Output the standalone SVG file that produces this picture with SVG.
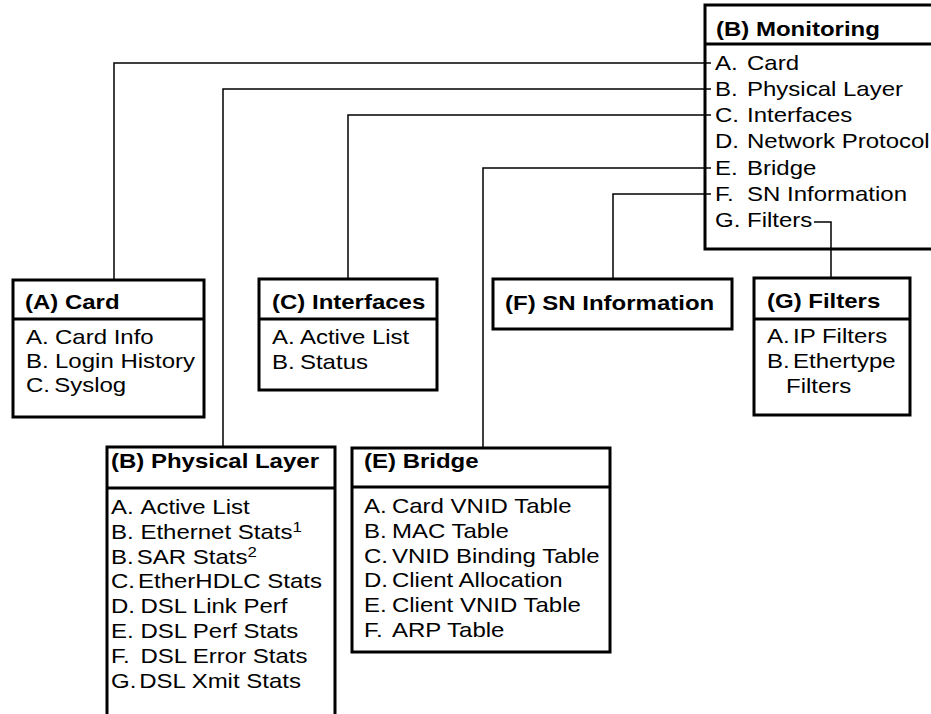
<svg xmlns="http://www.w3.org/2000/svg" width="931" height="714" viewBox="0 0 931 714">
<style>
.box{fill:#fff;stroke:#000;stroke-width:3}
.hl{fill:none;stroke:#000;stroke-width:3}
.cn{fill:none;stroke:#000;stroke-width:1.5}
.t{font-family:"Liberation Sans",Arial,Helvetica,sans-serif;font-size:20px;fill:#000}
.b{font-weight:bold}
.sup{font-size:14px}
</style>
<rect width="931" height="714" fill="#fff"/>
<g id="connectors">
<path class="cn" d="M711 63H114V280"/>
<path class="cn" d="M711 89H223V447"/>
<path class="cn" d="M711 115H348V279"/>
<path class="cn" d="M711 168H483V448"/>
<path class="cn" d="M711 194H613V279"/>
<path class="cn" d="M814 222H831V278"/>
</g>
<g id="monitoring">
<path class="hl" d="M935 5H705V249H935"/>
<path class="hl" d="M705 44H935"/>
<text class="t b" transform="translate(716,36) scale(1.2,1)">(B) Monitoring</text>
<text class="t" transform="translate(715,70) scale(1.2,1)">A.<tspan x="26.7">Card</tspan></text>
<text class="t" transform="translate(715,96) scale(1.2,1)">B.<tspan x="26.7">Physical Layer</tspan></text>
<text class="t" transform="translate(715,122) scale(1.2,1)">C.<tspan x="26.7">Interfaces</tspan></text>
<text class="t" transform="translate(715,148) scale(1.2,1)">D.<tspan x="26.7">Network Protocol</tspan></text>
<text class="t" transform="translate(715,175) scale(1.2,1)">E.<tspan x="26.7">Bridge</tspan></text>
<text class="t" transform="translate(715,201) scale(1.2,1)">F.<tspan x="26.7">SN Information</tspan></text>
<text class="t" transform="translate(715,227) scale(1.2,1)">G.<tspan x="26.7">Filters</tspan></text>
</g>
<g id="card">
<rect class="box" x="13" y="280" width="191" height="137"/>
<path class="hl" d="M13 319H204"/>
<text class="t b" transform="translate(25,309) scale(1.2,1)">(A) Card</text>
<text class="t" transform="translate(26,344) scale(1.2,1)">A.<tspan x="24.2">Card Info</tspan></text>
<text class="t" transform="translate(26,368) scale(1.2,1)">B.<tspan x="24.2">Login History</tspan></text>
<text class="t" transform="translate(26,392) scale(1.2,1)">C.<tspan x="23.5">Syslog</tspan></text>
</g>
<g id="interfaces">
<rect class="box" x="259" y="279" width="178" height="111"/>
<path class="hl" d="M259 319H437"/>
<text class="t b" transform="translate(272,309) scale(1.2,1)">(C) Interfaces</text>
<text class="t" transform="translate(272,344) scale(1.2,1)">A.<tspan x="23.3">Active List</tspan></text>
<text class="t" transform="translate(272,369) scale(1.2,1)">B.<tspan x="23.3">Status</tspan></text>
</g>
<g id="sninfo">
<rect class="box" x="493" y="279" width="239" height="50"/>
<text class="t b" transform="translate(505,310) scale(1.2,1)">(F) SN Information</text>
</g>
<g id="filters">
<rect class="box" x="754" y="278" width="156" height="137"/>
<path class="hl" d="M754 319H910"/>
<text class="t b" transform="translate(767,308) scale(1.2,1)">(G) Filters</text>
<text class="t" transform="translate(767,343) scale(1.2,1)">A.<tspan x="21.7">IP Filters</tspan></text>
<text class="t" transform="translate(767,368) scale(1.2,1)">B.<tspan x="21.7">Ethertype</tspan></text>
<text class="t" transform="translate(786,393) scale(1.2,1)">Filters</text>
</g>
<g id="physical">
<path class="hl" d="M107 714V447H335V714"/>
<path class="hl" d="M107 488H335"/>
<text class="t b" transform="translate(111,468) scale(1.2,1)">(B) Physical Layer</text>
<text class="t" transform="translate(111,514) scale(1.2,1)">A.<tspan x="24.5">Active List</tspan></text>
<text class="t" transform="translate(111,539) scale(1.2,1)">B.<tspan x="24.5">Ethernet Stats</tspan><tspan class="sup" dy="-7">1</tspan></text>
<text class="t" transform="translate(111,564) scale(1.2,1)">B.<tspan x="21.5">SAR Stats</tspan><tspan class="sup" dy="-7">2</tspan></text>
<text class="t" transform="translate(111,588) scale(1.2,1)">C.<tspan x="22.5">EtherHDLC Stats</tspan></text>
<text class="t" transform="translate(111,613) scale(1.2,1)">D.<tspan x="24.5">DSL Link Perf</tspan></text>
<text class="t" transform="translate(111,638) scale(1.2,1)">E.<tspan x="24.5">DSL Perf Stats</tspan></text>
<text class="t" transform="translate(111,663) scale(1.2,1)">F.<tspan x="24.5">DSL Error Stats</tspan></text>
<text class="t" transform="translate(111,688) scale(1.2,1)">G.<tspan x="23.5">DSL Xmit Stats</tspan></text>
</g>
<g id="bridge">
<rect class="box" x="352" y="448" width="258" height="204"/>
<path class="hl" d="M352 487H610"/>
<text class="t b" transform="translate(364,468) scale(1.2,1)">(E) Bridge</text>
<text class="t" transform="translate(364,513) scale(1.2,1)">A.<tspan x="23.3">Card VNID Table</tspan></text>
<text class="t" transform="translate(364,538) scale(1.2,1)">B.<tspan x="23.3">MAC Table</tspan></text>
<text class="t" transform="translate(364,563) scale(1.2,1)">C.<tspan x="23.3">VNID Binding Table</tspan></text>
<text class="t" transform="translate(364,587) scale(1.2,1)">D.<tspan x="23.3">Client Allocation</tspan></text>
<text class="t" transform="translate(364,612) scale(1.2,1)">E.<tspan x="23.3">Client VNID Table</tspan></text>
<text class="t" transform="translate(364,637) scale(1.2,1)">F.<tspan x="23.3">ARP Table</tspan></text>
</g>
</svg>
